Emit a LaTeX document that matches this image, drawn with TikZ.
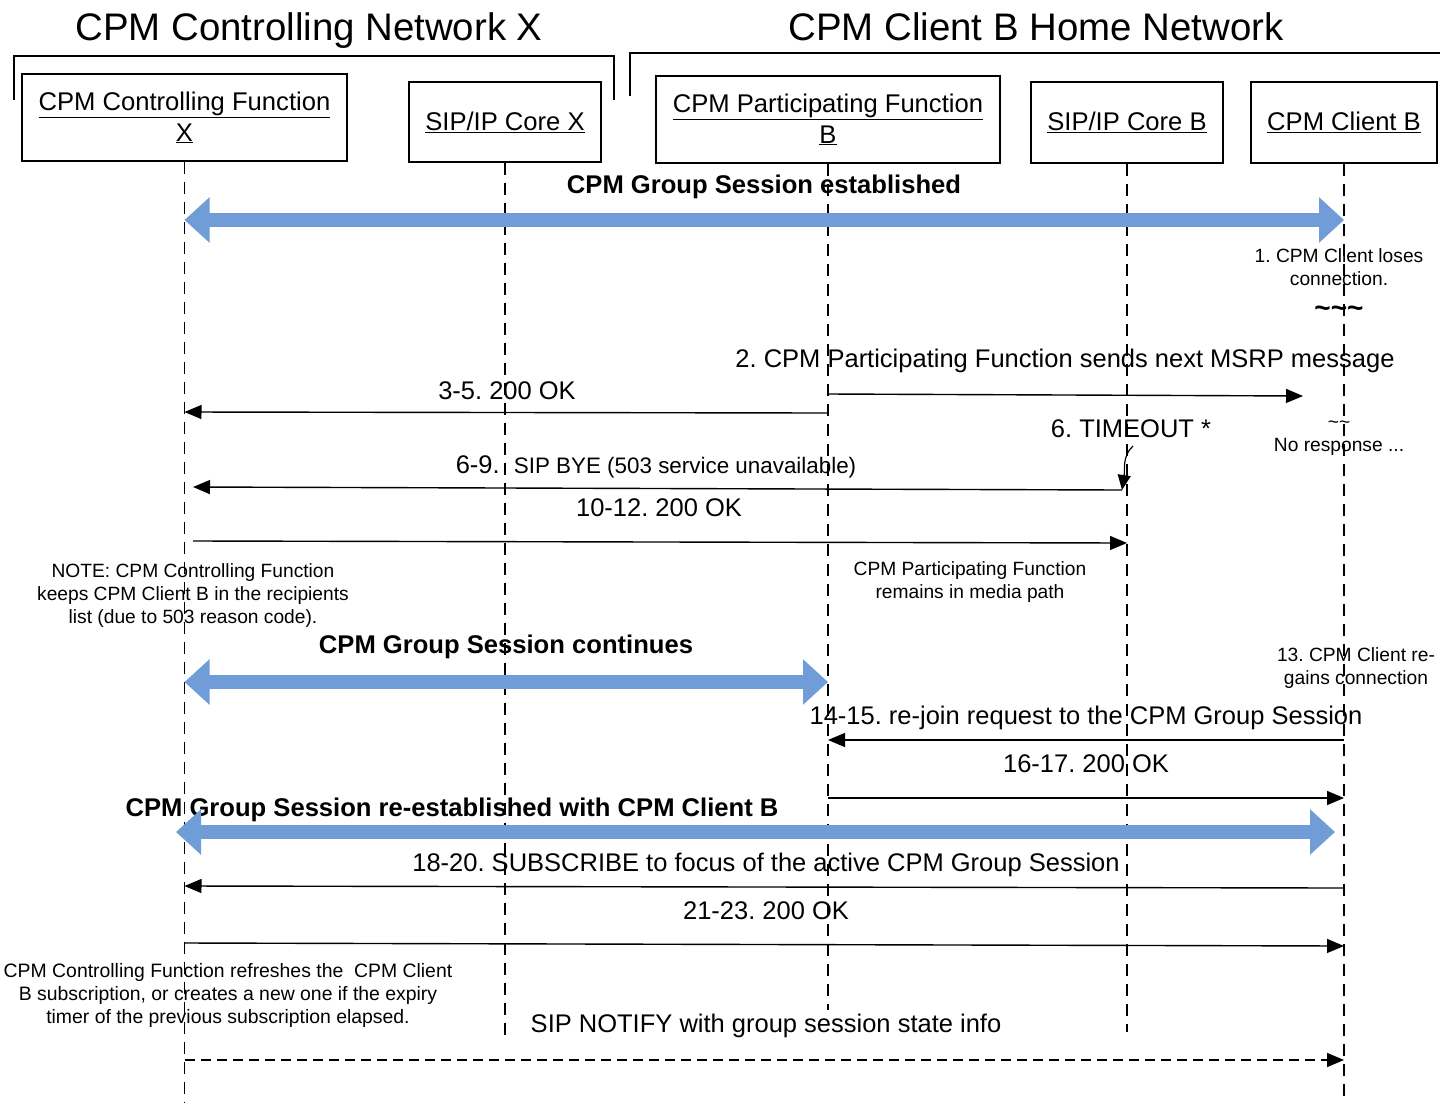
\documentclass[tikz,border=0pt]{standalone}
\usepackage{xcolor}
\usepackage{fontspec}
\setmainfont{Liberation Sans}
\usetikzlibrary{arrows.meta}
\frenchspacing

\definecolor{sesblue}{RGB}{112,157,215}

\tikzset{
  entity/.style={draw, line width=1.2pt, align=center, font=\fontsize{25.6}{31}\selectfont},
  lifeline/.style={line width=1.3pt, dash pattern=on 12pt off 8pt},
  bracket/.style={line width=2.2pt},
  msg/.style={line width=1.4pt, -{Triangle[length=17pt,width=14pt]}},
  session/.style={sesblue, line width=14pt, {Triangle[length=25pt,width=44pt]}-{Triangle[length=25pt,width=44pt]}},
  lbl/.style={font=\fontsize{25.5}{29}\selectfont},
  boldlbl/.style={font=\fontsize{25.6}{29}\selectfont\bfseries},
  small/.style={align=center, font=\fontsize{19.2}{23}\selectfont},
  title/.style={font=\fontsize{38.4}{42}\selectfont}
}

\begin{document}
\begin{tikzpicture}[x=1pt, y=-1pt]
        \useasboundingbox[fill=white] (0,0) rectangle (1440,1103);

        % Paso 1: Titulos y corchetes de las dos redes
        \node[title] (netx) at (309,31) {CPM Controlling Network X};
        \node[title] (netb) at (1036,27) {CPM Client B Home Network};
        \draw[bracket] (14,100) -- (14,56) -- (614,56) -- (614,100);
        \draw[bracket] (630,96) -- (630,53) -- (1440,53);

        % Paso 2: Entidades
        \node[entity, minimum width=325pt, minimum height=87pt] (cfx) at (184.5,117.5)
          {\underline{CPM Controlling Function}\\\underline{X}};
        \node[entity, minimum width=192pt, minimum height=80pt] (corex) at (505,122)
          {\underline{SIP/IP Core X}};
        \node[entity, minimum width=344pt, minimum height=87pt] (pfb) at (828,119.5)
          {\underline{CPM Participating Function}\\\underline{B}};
        \node[entity, minimum width=192pt, minimum height=81pt] (coreb) at (1127,122.5)
          {\underline{SIP/IP Core B}};
        \node[entity, minimum width=186pt, minimum height=81pt] (clb) at (1344,122.5)
          {\underline{CPM Client B}};

        % Paso 3: Lineas de vida
        \draw[lifeline] (cfx.south) -- (cfx.south |- 0,1103);
        \draw[lifeline] (corex.south) -- (corex.south |- 0,1035);
        \draw[lifeline] (pfb.south) -- (pfb.south |- 0,1010);
        \draw[lifeline] (coreb.south) -- (coreb.south |- 0,1032);
        \draw[lifeline] (clb.south) -- (clb.south |- 0,1103);

        % Paso 4: Sesion de grupo establecida
        \node[boldlbl] (est) at (764,187) {CPM Group Session established};
        \draw[session] (cfx |- 0,220) -- (clb |- 0,220);
        \node[small] (lose) at (1339,267) {1. CPM Client loses\\connection.};
        \node[font=\fontsize{28}{30}\selectfont\bfseries] (gap) at (1339,312) {\textasciitilde\textasciitilde\textasciitilde};

        % Paso 5: Mensaje MSRP y 200 OK
        \node[lbl] (msrp) at (1065,361) {2. CPM Participating Function sends next MSRP message};
        \coordinate (msrpend) at (1303,396);
        \draw[msg] (pfb |- 0,394) -- (msrpend);
        \node[lbl] (ok35) at (507,391) {3-5. 200 OK};
        \draw[msg] (pfb |- 0,413) -- (cfx |- 0,412);

        % Paso 6: Timeout y BYE
        \node[lbl] (tout) at (1131,429) {6. TIMEOUT *};
        \node[small] (noresp) at (1339,438) {\textasciitilde\textasciitilde\\No response ...};
        \coordinate (byestart) at (1122,490);
        \coordinate (byeend) at (193,487);
        \draw[line width=1.2pt, -{Triangle[length=15pt,width=13pt]}] (1133,446) .. controls (1122,456) and (1125,470) .. (byestart);
        \node[lbl] (bye) at (656,467) {6-9.~ {\fontsize{22.4}{26}\selectfont SIP BYE (503 service unavailable)}};
        \draw[msg] (byestart) -- (byeend);
        \node[lbl] (ok1012) at (659,508) {10-12. 200 OK};
        \coordinate (okstart) at (193,541);
        \draw[msg] (okstart) -- (coreb |- 0,543);

        % Paso 7: Notas
        \node[small] (note1) at (193,596) {NOTE: CPM Controlling Function\\keeps CPM Client B in the recipients\\list (due to 503 reason code).};
        \node[small] (media) at (970,582) {CPM Participating Function\\remains in media path};

        % Paso 8: La sesion continua
        \node[boldlbl] (cont) at (506,647) {CPM Group Session continues};
        \draw[session] (cfx |- 0,682) -- (pfb |- 0,682);
        \node[small] (regain) at (1356,668) {13. CPM Client re-\\gains connection};

        % Paso 9: Re-join
        \node[lbl] (rejoin) at (1086,718) {14-15. re-join request to the CPM Group Session};
        \draw[msg] (clb |- 0,740) -- (pfb |- 0,740);
        \node[lbl] (ok1617) at (1086,764) {16-17. 200 OK};
        \draw[msg] (pfb |- 0,798) -- (clb |- 0,798);

        % Paso 10: Sesion restablecida
        \node[boldlbl] (reest) at (452,810) {CPM Group Session re-established with CPM Client B};
        \coordinate (reestl) at (176,832);
        \coordinate (reestr) at (1335,832);
        \draw[session] (reestl) -- (reestr);

        % Paso 11: SUBSCRIBE y NOTIFY
        \node[lbl] (subs) at (766,865) {18-20. SUBSCRIBE to focus of the active CPM Group Session};
        \draw[msg] (clb |- 0,888) -- (cfx |- 0,886);
        \node[lbl] (ok2123) at (766,911) {21-23. 200 OK};
        \draw[msg] (cfx |- 0,943) -- (clb |- 0,946);
        \node[small, font=\fontsize{19.4}{23}\selectfont] (note2) at (228,995) {CPM Controlling Function refreshes the~ CPM Client\\B subscription, or creates a new one if the expiry\\timer of the previous subscription elapsed.};
        \node[lbl] (notify) at (766,1026) {SIP NOTIFY with group session state info};
        \draw[msg, dash pattern=on 10pt off 6pt] (cfx |- 0,1060) -- (clb |- 0,1060);
\end{tikzpicture}
\end{document}
